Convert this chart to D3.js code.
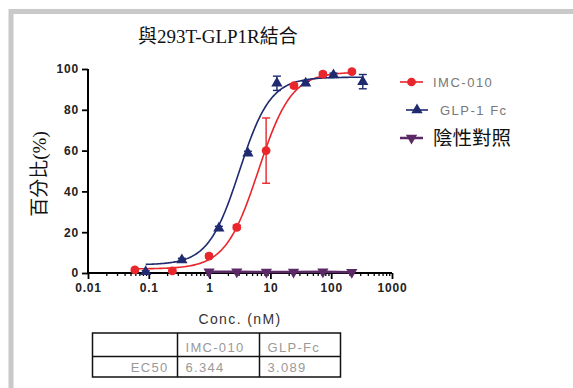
<!DOCTYPE html>
<html>
<head>
<meta charset="utf-8">
<script src="https://cdn.jsdelivr.net/npm/d3@7"></script>
<style>
  html, body { margin: 0; padding: 0; background: #fff; }
  svg { display: block; }
</style>
</head>
<body>
<svg id="chart" width="573" height="388"></svg>
<script>
// Binding of test articles to 293T-GLP1R cells (% of max), vs concentration (nM)
const imcConc   = [0.059, 0.244, 0.977, 2.8, 8.5, 24.4, 73, 219];
const imcPct    = [1.5, 1.0, 8.3, 22.4, 60.0, 91.8, 97.5, 98.7];
const imcErr    = [0.8, 0.6, 1.0, 1.0, 16.0, 1.0, 1.0, 0.8];

const glpConc   = [0.089, 0.35, 1.42, 4.27, 12.8, 38, 109, 331];
const glpPct    = [0.6, 6.4, 21.9, 58.7, 93.0, 93.0, 97.0, 93.8];
const glpErr    = [0.5, 0.8, 1.0, 1.0, 3.5, 1.0, 1.0, 3.5];

const negConc   = [0.98, 2.8, 8.6, 24, 73, 218];
const negPct    = [0.6, 0.6, 0.5, 0.5, 0.6, 0.4];

const xTicks    = [0.01, 0.1, 1, 10, 100, 1000];
const xTickText = ["0.01", "0.1", "1", "10", "100", "1000"];
const yTicks    = [0, 20, 40, 60, 80, 100];

const seriesNames = ["IMC-010", "GLP-1 Fc", "陰性對照"];
const ec50Names   = ["IMC-010", "GLP-Fc"];
const ec50Values  = ["6.344", "3.089"];

// Four-parameter logistic fit parameters (bottom, top, EC50, Hill slope)
const imcFit = { bottom: 2.0, top: 98.5, ec50: 6.344, hill: 1.6 };
const glpFit = { bottom: 4.0, top: 96.0, ec50: 3.089, hill: 1.7 };

const colors = { imc: "#e8262b", glp: "#1f2a70", neg: "#5b2a66" };
const sansFont = "'Liberation Sans', Arial, sans-serif";
const serifFont = "'Liberation Serif', 'Noto Sans CJK TC', serif";

const svg = d3.select("#chart");

// outer panel frame
svg.append("rect")
  .attr("x", 11).attr("y", 11.5)
  .attr("width", 600).attr("height", 420)
  .attr("fill", "none")
  .attr("stroke", "#c9c9c9")
  .attr("stroke-width", 5);

const x = d3.scaleLog().domain([0.01, 1000]).range([88, 392]);
const y = d3.scaleLinear().domain([0, 100]).range([273, 69]);

// title
svg.append("text")
  .attr("x", 138).attr("y", 43)
  .attr("font-family", serifFont)
  .attr("font-size", 19)
  .attr("fill", "#111")
  .text("與293T-GLP1R結合");

// y axis
const yAxis = svg.append("g")
  .attr("transform", "translate(88,0)")
  .call(d3.axisLeft(y).tickValues(yTicks).tickSize(6).tickPadding(3).tickFormat(d3.format("d")));
// x axis with log minor ticks
const minor = [];
for (let e = -2; e < 3; e++) for (let m = 2; m <= 9; m++) minor.push(m * Math.pow(10, e));
const xAxis = svg.append("g")
  .attr("transform", "translate(0,273)")
  .call(d3.axisBottom(x).tickValues(xTicks).tickSize(6).tickPadding(4)
    .tickFormat((d, i) => xTickText[i]));
svg.append("g")
  .attr("transform", "translate(0,273)")
  .call(d3.axisBottom(x).tickValues(minor).tickSize(3).tickFormat(""))
  .call(g => g.select(".domain").remove())
  .selectAll("line").attr("stroke", "#000").attr("stroke-width", 1.3);

[yAxis, xAxis].forEach(g => {
  g.select(".domain").attr("stroke", "#000").attr("stroke-width", 2);
  g.selectAll(".tick line").attr("stroke", "#000").attr("stroke-width", 1.8);
  g.selectAll(".tick text")
    .attr("font-family", sansFont)
    .attr("font-size", 12).attr("font-weight", "bold").attr("fill", "#222")
    .attr("letter-spacing", 0.8);
});
yAxis.select(".domain").attr("d", "M0," + y(100) + "V" + y(0));
xAxis.select(".domain").attr("d", "M" + x(0.01) + ",0H" + x(1000));

// axis titles
svg.append("text")
  .attr("transform", "translate(46,174) rotate(-90)")
  .attr("text-anchor", "middle")
  .attr("font-family", serifFont)
  .attr("font-size", 19).attr("fill", "#111")
  .text("百分比(%)");
svg.append("text")
  .attr("x", 240).attr("y", 324)
  .attr("text-anchor", "middle")
  .attr("font-family", sansFont)
  .attr("font-size", 14).attr("fill", "#333")
  .attr("letter-spacing", 1.4)
  .text("Conc. (nM)");

// fitted curves
function logistic(p, c) {
  return p.bottom + (p.top - p.bottom) / (1 + Math.pow(p.ec50 / c, p.hill));
}
const line = d3.line().x(d => x(d[0])).y(d => y(d[1])).curve(d3.curveLinear);
function curvePoints(p, lo, hi) {
  const pts = [];
  const n = 200;
  for (let i = 0; i <= n; i++) {
    const c = Math.pow(10, Math.log10(lo) + (Math.log10(hi) - Math.log10(lo)) * i / n);
    pts.push([c, logistic(p, c)]);
  }
  return pts;
}
svg.append("path")
  .attr("d", line(curvePoints(imcFit, imcConc[0], imcConc[imcConc.length - 1])))
  .attr("fill", "none").attr("stroke", colors.imc).attr("stroke-width", 1.6);
svg.append("path")
  .attr("d", line(curvePoints(glpFit, glpConc[0], glpConc[glpConc.length - 1])))
  .attr("fill", "none").attr("stroke", colors.glp).attr("stroke-width", 1.6);

// negative control trace
svg.append("path")
  .attr("d", line(negConc.map((c, i) => [c, negPct[i]])))
  .attr("fill", "none").attr("stroke", colors.neg).attr("stroke-width", 2.5);

// error bars
function errorBars(conc, pct, err, color) {
  const g = svg.append("g").attr("stroke", color).attr("stroke-width", 1.4);
  conc.forEach((c, i) => {
    const cx = x(c), y1 = y(pct[i] + err[i]), y2 = y(Math.max(0, pct[i] - err[i]));
    g.append("line").attr("x1", cx).attr("x2", cx).attr("y1", y1).attr("y2", y2);
    g.append("line").attr("x1", cx - 4).attr("x2", cx + 4).attr("y1", y1).attr("y2", y1);
    g.append("line").attr("x1", cx - 4).attr("x2", cx + 4).attr("y1", y2).attr("y2", y2);
  });
}
errorBars(imcConc, imcPct, imcErr, colors.imc);
errorBars(glpConc, glpPct, glpErr, colors.glp);

// markers
const circleSym = d3.symbol().type(d3.symbolCircle).size(60);
const triSym = d3.symbol().type(d3.symbolTriangle).size(55);
function markers(conc, pct, sym, color, rot) {
  svg.append("g").selectAll("path")
    .data(conc.map((c, i) => [c, pct[i]]))
    .join("path")
    .attr("d", sym)
    .attr("transform", d => `translate(${x(d[0])},${y(d[1])}) rotate(${rot})`)
    .attr("fill", color);
}
markers(negConc, negPct, triSym, colors.neg, 180);
markers(imcConc, imcPct, circleSym, colors.imc, 0);
markers(glpConc, glpPct, triSym, colors.glp, 0);

// legend
const legend = [
  { name: seriesNames[0], color: colors.imc, sym: circleSym, rot: 0, x0: 400, x1: 423, y: 82, tx: 433, cjk: false },
  { name: seriesNames[1], color: colors.glp, sym: triSym, rot: 0, x0: 406, x1: 428, y: 110, tx: 440, cjk: false },
  { name: seriesNames[2], color: colors.neg, sym: triSym, rot: 180, x0: 400, x1: 423, y: 138, tx: 433, cjk: true }
];
legend.forEach(l => {
  svg.append("line").attr("x1", l.x0).attr("x2", l.x1).attr("y1", l.y).attr("y2", l.y)
    .attr("stroke", l.color).attr("stroke-width", l.cjk ? 2.5 : 1.6);
  svg.append("path").attr("d", l.sym)
    .attr("transform", `translate(${(l.x0 + l.x1) / 2},${l.y}) rotate(${l.rot})`)
    .attr("fill", l.color);
  svg.append("text")
    .attr("x", l.tx).attr("y", l.y + (l.cjk ? 7 : 5))
    .attr("font-family", l.cjk ? "'Noto Sans CJK TC', sans-serif" : sansFont)
    .attr("font-size", l.cjk ? 19.5 : 13)
    .attr("letter-spacing", l.cjk ? 0 : 1.5)
    .attr("fill", l.cjk ? "#111" : "#777")
    .text(l.name);
});

// EC50 table
const tbl = svg.append("g");
const tx0 = 92.5, tx1 = 177.5, tx2 = 259.5, tx3 = 340.5;
const ty0 = 333, ty1 = 356.5, ty2 = 377;
tbl.append("rect").attr("x", tx0).attr("y", ty0).attr("width", tx3 - tx0).attr("height", ty2 - ty0)
  .attr("fill", "none").attr("stroke", "#111").attr("stroke-width", 1.5);
[[tx1, tx1, ty0, ty2], [tx2, tx2, ty0, ty2], [tx0, tx3, ty1, ty1]].forEach(s => {
  tbl.append("line").attr("x1", s[0]).attr("x2", s[1]).attr("y1", s[2]).attr("y2", s[3])
    .attr("stroke", "#111").attr("stroke-width", 1.5);
});
[[tx1 + 8, ty1 - 5, ec50Names[0], "start"], [tx2 + 8, ty1 - 5, ec50Names[1], "start"],
 [tx1 - 9, ty2 - 5, "EC50", "end"], [tx1 + 8, ty2 - 5, ec50Values[0], "start"],
 [tx2 + 8, ty2 - 5, ec50Values[1], "start"]].forEach(t => {
  tbl.append("text").attr("x", t[0]).attr("y", t[1]).attr("text-anchor", t[3])
    .attr("font-family", sansFont).attr("font-size", 13).attr("fill", "#999")
    .attr("letter-spacing", 1.3)
    .text(t[2]);
});
</script>
</body>
</html>
